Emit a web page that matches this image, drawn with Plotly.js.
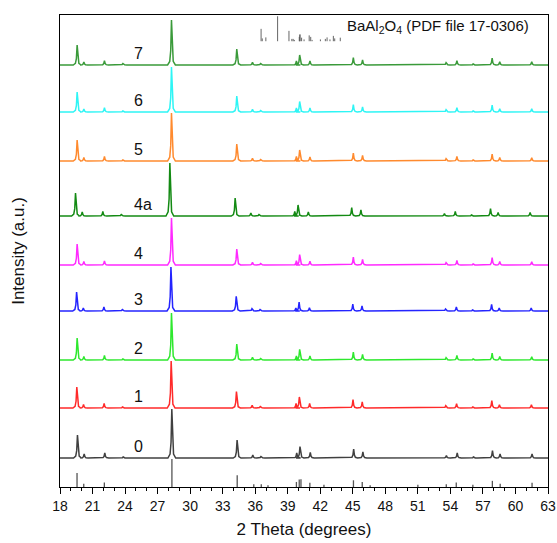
<!DOCTYPE html>
<html><head><meta charset="utf-8">
<script src="https://cdn.plot.ly/plotly-3.0.1.min.js"></script>
<style>html,body{margin:0;padding:0;background:#fff}#plot{width:557px;height:543px}</style>
</head><body><div id="plot"></div>
<script>
// ---- data ----
const sampleNames = ['0','1','2','3','4','4a','5','6','7'];
const sampleOffsets = [29, 79, 127, 176, 222, 271, 326, 375, 422];
const sampleShifts = [0.03, -0.03, 0, -0.05, 0, -0.15, 0, 0, 0];
const peakPositions = [19.58, 20.2, 22.1, 23.8, 28.28, 34.3, 35.75, 36.5, 39.8, 40.1, 41.05, 45.05, 45.9, 53.6, 54.6, 56.1, 57.85, 58.55, 61.5];
const h0  = [23, 4, 5, 1, 49, 18, 3, 1.5, 5, 11.5, 5.5, 9, 6, 2.5, 5, 1, 7.5, 4, 4];
const h1  = [21, 3.5, 4.5, 1, 47, 16.5, 2.7, 1.5, 4.5, 11, 4.5, 8.3, 6, 2.3, 4.3, 1, 7.3, 3.3, 3.3];
const h2  = [22, 3.5, 4.5, 1, 47, 16, 2.7, 1.5, 4, 10.7, 4, 8, 5.5, 2.3, 4.5, 1, 7, 3.5, 3.3];
const h3  = [19, 3, 4, 1.5, 44, 14.7, 2.3, 1.5, 3, 9, 3.3, 7, 5, 2, 4, 1, 6.5, 3, 3];
const h4  = [21, 3.5, 4, 0.5, 47, 16, 2.7, 1.5, 4.3, 10.3, 3.7, 8, 5.5, 2.3, 4.5, 1, 7.5, 3.5, 3.3];
const h4a = [23, 4, 4.5, 1.5, 53, 18, 3, 1.5, 4.5, 11, 4, 8.5, 6, 2.5, 4.5, 1, 7.5, 3.5, 3.5];
const h5  = [21, 3.5, 4.5, 1, 48, 17, 2.7, 1.5, 4.5, 11, 4, 8, 5.5, 2.3, 4.5, 1, 7, 3.5, 3.3];
const h6  = [20, 3, 4.3, 1, 45, 16, 2.7, 1.5, 4, 10.5, 4, 7.5, 5, 2.3, 4.3, 1, 7, 3.3, 3.3];
const h7  = [20, 3, 4.3, 1.5, 45, 16, 2.7, 1.5, 4, 10, 4, 7.5, 5, 2.3, 4.3, 1, 7, 3.3, 3.3];
const sampleHeights = [h0, h1, h2, h3, h4, h4a, h5, h6, h7];
const sampleColors = ['#404040', '#ff2a2a', '#2ee82e', '#2424ff', '#ff2aff', '#138a13', '#ff8a2e', '#2ef5f5', '#3a9a3a'];
const stickPos = [19.57, 20.19, 22.09, 28.32, 34.34, 35.87, 36.56, 37.18, 39.8, 40.06, 40.22, 41.04, 42.34, 45.06, 45.87, 46.6, 51.0, 53.62, 54.54, 56.07, 57.87, 58.59, 61.53];
const stickInt = [50, 12, 16, 100, 42, 10, 10, 6, 18, 27, 28, 15, 8, 24, 18, 6, 8, 10, 16, 8, 22, 12, 15];
const refLabel = 'BaAl<sub>2</sub>O<sub>4</sub> (PDF file 17-0306)';
const xTickVals = [18,21,24,27,30,33,36,39,42,45,48,51,54,57,60,63];

// ---- rendering ----
const xMin = 18, xMax = 63;
const shapeDx = [-0.36, -0.16, -0.07, 0, 0.07, 0.16, 0.36];
const shapeFr = [0, 0.08, 0.32, 1, 0.32, 0.08, 0];
const stickScale = 0.28;

function profile(heights, shift, offset) {
  const xs = [xMin], ys = [offset];
  peakPositions.forEach((p, i) => {
    shapeDx.forEach((d, k) => { xs.push(p + shift + d); ys.push(offset + heights[i] * shapeFr[k]); });
  });
  xs.push(xMax); ys.push(offset);
  return {xs, ys};
}

const traces = [];
sampleNames.forEach((n, i) => {
  const pr = profile(sampleHeights[i], sampleShifts[i], sampleOffsets[i]);
  traces.push({x: pr.xs, y: pr.ys, type: 'scatter', mode: 'lines', line: {color: sampleColors[i], width: 1.5}, hoverinfo: 'skip', showlegend: false});
});
function sticks(scale) {
  const xs = [], ys = [];
  stickPos.forEach((p, i) => { xs.push(p, p, null); ys.push(0, stickInt[i] * scale, null); });
  return {xs, ys};
}
const st = sticks(stickScale);
traces.push({x: st.xs, y: st.ys, type: 'scatter', mode: 'lines', line: {color: '#555555', width: 1.3}, hoverinfo: 'skip', showlegend: false});
const st2 = sticks(1);
traces.push({x: st2.xs, y: st2.ys, xaxis: 'x2', yaxis: 'y2', type: 'scatter', mode: 'lines', line: {color: '#555555', width: 0.9}, hoverinfo: 'skip', showlegend: false});

const annotations = sampleNames.map((n, i) => ({
  x: 24.6, y: sampleOffsets[i] + 12, xref: 'x', yref: 'y', text: n, showarrow: false,
  xanchor: 'left', yanchor: 'middle', font: {family: 'Arial, Liberation Sans, sans-serif', size: 16, color: '#111'}
}));
annotations.push({x: 0.583, y: 0.975, xref: 'paper', yref: 'paper', text: refLabel, showarrow: false,
  xanchor: 'left', yanchor: 'middle', font: {family: 'Arial, Liberation Sans, sans-serif', size: 15, color: '#111'}});

const layout = {
  width: 557, height: 543,
  margin: {l: 60, r: 9, t: 15, b: 56},
  paper_bgcolor: '#fff', plot_bgcolor: '#fff',
  showlegend: false,
  font: {family: 'Arial, Liberation Sans, sans-serif', color: '#111'},
  xaxis: {
    range: [xMin, xMax], tickmode: 'array', tickvals: xTickVals, ticks: 'outside', ticklen: 6, tickwidth: 1, tickcolor: '#000',
    minor: {dtick: 1, tick0: 18, ticks: 'outside', ticklen: 3, tickcolor: '#000', showgrid: false},
    showline: true, linecolor: '#000', linewidth: 1, mirror: true, showgrid: false, zeroline: false,
    tickfont: {size: 14, color: '#111'},
    title: {text: '2 Theta (degrees)', font: {size: 17, color: '#111'}, standoff: 10}
  },
  yaxis: {
    range: [0, 472], showticklabels: false, ticks: '', showline: true, linecolor: '#000', linewidth: 1, mirror: true,
    showgrid: false, zeroline: false,
    title: {text: 'Intensity (a.u.)', font: {size: 17, color: '#111'}, standoff: 30}
  },
  xaxis2: {domain: [0.406, 0.58], range: [xMin, xMax], anchor: 'y2', visible: false, fixedrange: true},
  yaxis2: {domain: [0.944, 1.0], range: [0, 105], anchor: 'x2', visible: false, fixedrange: true},
  annotations: annotations
};
Plotly.newPlot('plot', traces, layout, {displayModeBar: false, staticPlot: true});
</script></body></html>
